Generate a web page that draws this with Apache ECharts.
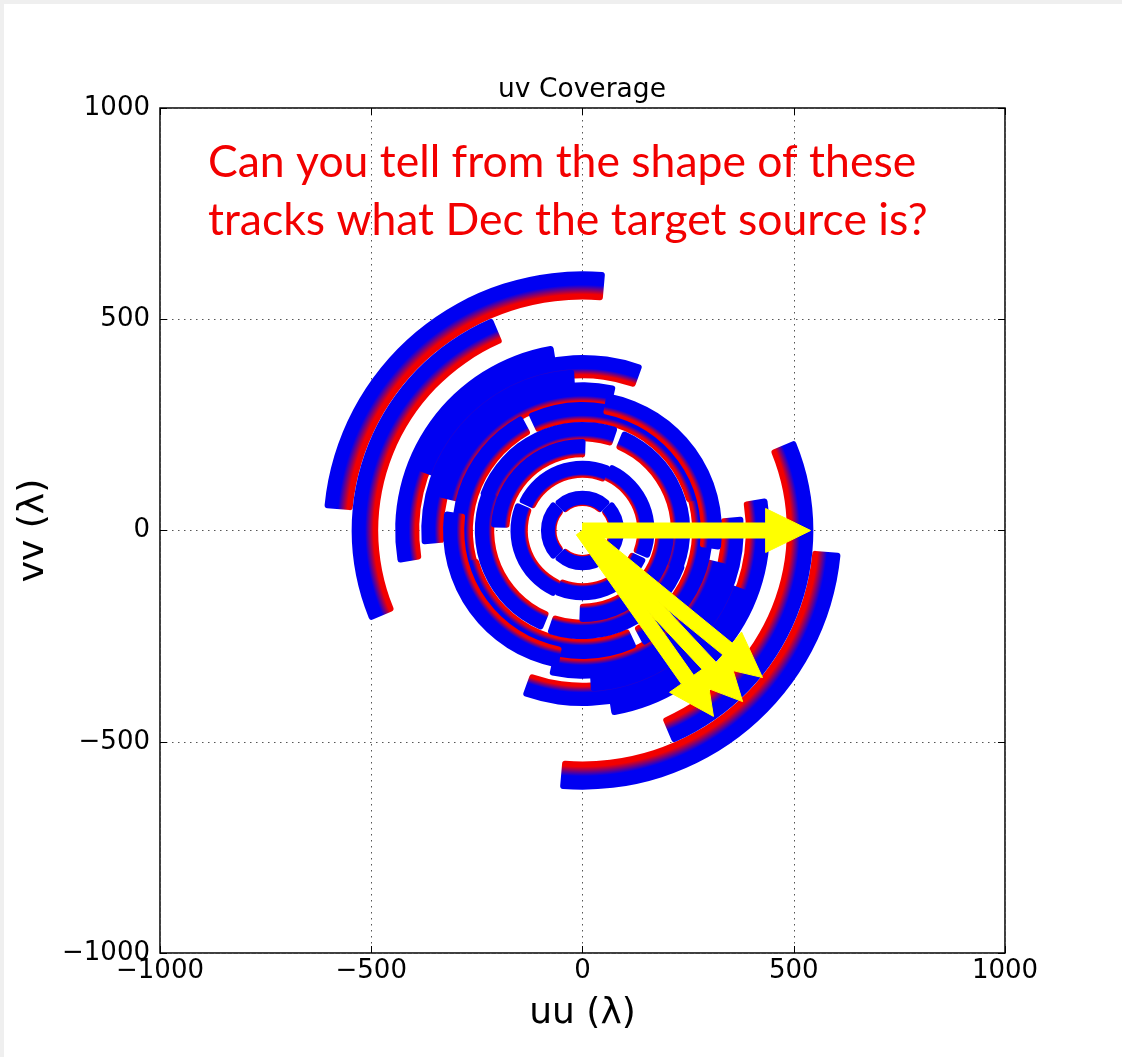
<!DOCTYPE html>
<html>
<head>
<meta charset="utf-8">
<script src="https://cdn.jsdelivr.net/npm/echarts@6/dist/echarts.min.js"></script>
<style>
html,body{margin:0;padding:0;background:#fff;}
#chart{width:1122px;height:1057px;}
</style>
</head>
<body>
<div id="chart"></div>
<script>
// ---- data ----
// each uv track (one baseline): radius in lambda, start / end position angle in degrees
const trackRadius   = [580, 515, 415, 388, 355, 325, 284, 280, 305, 234, 232, 195, 145, 150, 76, 80];
const trackStartDeg = [ 85, 113,  99,  70,  93,  77, 118,  15,  -8,  71, -22,  88,  66, -23, 45, 135];
const trackEndDeg   = [175, 203, 190, 160, 185, 167, 206, 115,  80, 161,  68, 178, 156,  67, 135, 225];
// yellow arrows: tip positions (u, v) in lambda, all starting at the origin
const arrowU = [540, 426, 379, 310];
const arrowV = [0, -348, -405, -440];
// axis ticks
const tickValues = [-1000, -500, 0, 500, 1000];
const titleText = 'uv Coverage';
const xName = 'uu (\u03bb)';
const yName = 'vv (\u03bb)';
const noteLines = ['Can you tell from the shape of these', 'tracks what Dec the target source is?'];

// ---- build series data (each track plus its conjugate at -u,-v) ----
const trackData = [];
for (let i = 0; i < trackRadius.length; i++) {
  trackData.push([trackRadius[i], trackStartDeg[i], trackEndDeg[i]]);
  trackData.push([trackRadius[i], trackStartDeg[i] + 180, trackEndDeg[i] + 180]);
}
const arrowData = arrowU.map((u, i) => [u, arrowV[i]]);

// styling constants
const BAND_FRAC = 0.06;   // fractional bandwidth spread of the channels
const MARKER_PX = 13.5;   // marker diameter in pixels
const RED = '#f20000', BLUE = '#0000f2';
const SHAFT_HW = 7.5, HEAD_HW = 22, HEAD_LEN = 45;

function fmt(v) { return v < 0 ? '\u2212' + Math.abs(v) : String(v); }

const chart = echarts.init(document.getElementById('chart'), null, {renderer: 'canvas'});
const font = 'DejaVu Sans';
const tickStyle = {show: true, inside: true, length: 7, lineStyle: {color: '#000', width: 1}};
const option = {
  backgroundColor: '#ffffff',
  animation: false,
  grid: {left: 160, top: 108, width: 845, height: 845, show: true, borderColor: '#000', borderWidth: 1.5, backgroundColor: '#fff'},
  xAxis: [{
    type: 'value', min: tickValues[0], max: tickValues[tickValues.length - 1], interval: 500, position: 'bottom',
    axisLine: {show: false, onZero: false},
    axisTick: tickStyle,
    axisLabel: {fontSize: 26, color: '#000', fontFamily: font, margin: 5, formatter: fmt},
    splitLine: {show: true, lineStyle: {color: '#555', width: 1, type: [1.5, 4.5]}},
    name: xName, nameLocation: 'middle', nameGap: 43,
    nameTextStyle: {fontSize: 36, color: '#000', fontFamily: font}
  }, {
    type: 'value', min: -1000, max: 1000, interval: 500, position: 'top',
    axisLine: {show: false, onZero: false}, axisLabel: {show: false}, splitLine: {show: false},
    axisTick: tickStyle
  }],
  yAxis: [{
    type: 'value', min: tickValues[0], max: tickValues[tickValues.length - 1], interval: 500, position: 'left',
    axisLine: {show: false, onZero: false},
    axisTick: tickStyle,
    axisLabel: {fontSize: 26, color: '#000', fontFamily: font, margin: 10, formatter: fmt},
    splitLine: {show: true, lineStyle: {color: '#555', width: 1, type: [1.5, 4.5]}},
    name: yName, nameLocation: 'middle', nameGap: 100,
    nameTextStyle: {fontSize: 36, color: '#000', fontFamily: font}
  }, {
    type: 'value', min: -1000, max: 1000, interval: 500, position: 'right',
    axisLine: {show: false, onZero: false}, axisLabel: {show: false}, splitLine: {show: false},
    axisTick: tickStyle
  }],
  graphic: [
    {type: 'rect', left: 0, top: 0, shape: {width: 1122, height: 4}, style: {fill: '#efefef'}, z: 100},
    {type: 'rect', left: 0, top: 0, shape: {width: 4, height: 1057}, style: {fill: '#efefef'}, z: 100},
    {type: 'text', x: 582, y: 90, style: {text: titleText, fill: '#000', font: '26.5px "DejaVu Sans"', textAlign: 'center', textVerticalAlign: 'middle'}, z: 100},
    {type: 'text', x: 208, y: 163, style: {text: noteLines[0], fill: RED, font: '44.5px Lato', textAlign: 'left', textVerticalAlign: 'middle'}, z: 100},
    {type: 'text', x: 208, y: 221, style: {text: noteLines[1], fill: RED, font: '44.5px Lato', textAlign: 'left', textVerticalAlign: 'middle'}, z: 100}
  ],
  series: [{
    type: 'custom',
    coordinateSystem: 'cartesian2d',
    xAxisIndex: 0, yAxisIndex: 0,
    data: trackData,
    encode: {x: -1, y: -1},
    renderItem: function (params, api) {
      const r = api.value(0), a1 = api.value(1), a2 = api.value(2);
      const c = api.coord([0, 0]);
      const R = api.size([r, 0])[0];
      const spread = R * BAND_FRAC;
      const r0 = R - spread / 2 - MARKER_PX / 2;
      const r1 = R + spread / 2 + MARKER_PX / 2;
      const s1 = (r0 + 0.35 * spread) / r1;
      const s2 = (r0 + spread) / r1;
      return {
        type: 'sector',
        shape: {cx: c[0], cy: c[1], r0: r0, r: r1,
          startAngle: -a2 * Math.PI / 180, endAngle: -a1 * Math.PI / 180, clockwise: true, cornerRadius: 3},
        style: {
          fill: {type: 'radial', x: c[0], y: c[1], r: r1, global: true,
            colorStops: [
              {offset: 0, color: RED},
              {offset: r0 / r1, color: RED},
              {offset: s1, color: RED},
              {offset: s2, color: BLUE},
              {offset: 1, color: BLUE}
            ]}
        }
      };
    }
  }, {
    type: 'custom',
    coordinateSystem: 'cartesian2d',
    data: arrowData,
    renderItem: function (params, api) {
      const o = api.coord([0, 0]);
      const t = api.coord([api.value(0), api.value(1)]);
      const dx = t[0] - o[0], dy = t[1] - o[1];
      const L = Math.hypot(dx, dy);
      const ux = dx / L, uy = dy / L, nx = -uy, ny = ux;
      const bx = t[0] - ux * HEAD_LEN, by = t[1] - uy * HEAD_LEN;
      const pts = [
        [o[0] + nx * SHAFT_HW, o[1] + ny * SHAFT_HW],
        [bx + nx * SHAFT_HW, by + ny * SHAFT_HW],
        [bx + nx * HEAD_HW, by + ny * HEAD_HW],
        [t[0], t[1]],
        [bx - nx * HEAD_HW, by - ny * HEAD_HW],
        [bx - nx * SHAFT_HW, by - ny * SHAFT_HW],
        [o[0] - nx * SHAFT_HW, o[1] - ny * SHAFT_HW]
      ];
      return {type: 'polygon', shape: {points: pts}, style: {fill: '#ffff00', stroke: '#ffff00', lineWidth: 1}};
    }
  }]
};
chart.setOption(option);
</script>
</body>
</html>
